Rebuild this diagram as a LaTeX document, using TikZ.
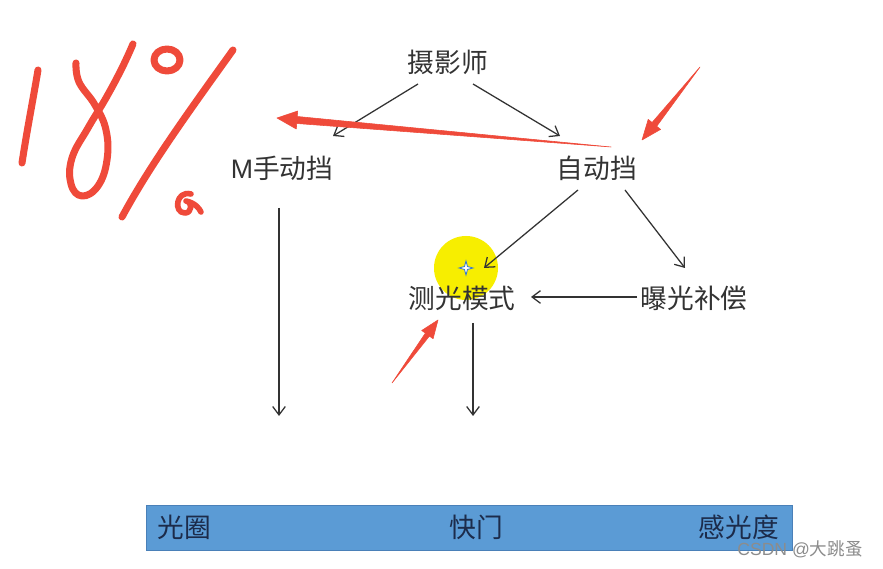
\documentclass[tikz,border=0pt]{standalone}
\usepackage{fontspec}
\setmainfont{Liberation Sans}
\newfontfamily\cjk{Noto Sans CJK SC}
\usetikzlibrary{arrows.meta,calc}
\definecolor{redink}{HTML}{EF4A3A}
\definecolor{inkgray}{HTML}{333333}
\definecolor{barblue}{HTML}{5B9BD5}
\definecolor{barline}{HTML}{4A80B8}
\definecolor{bartext}{HTML}{1C2B4A}
\definecolor{hlyellow}{HTML}{F7EE00}
\definecolor{sparkblue}{HTML}{3A7BC8}
\begin{document}
\begin{tikzpicture}[x=0.025cm,y=-0.025cm,
  lbl/.style={inner sep=0pt,text=inkgray,font=\cjk\fontsize{19}{22}\selectfont},
  blbl/.style={inner sep=0pt,text=bartext,font=\cjk\fontsize{19}{22}\selectfont},
  arr/.style={draw=inkgray,line width=0.9pt,-{Straight Barb[length=6pt,width=9pt]}},
  pen/.style={draw=redink,line width=5pt,line cap=round,line join=round},
  redarrow/.style={fill=redink,draw=redink,line width=0.4pt,line join=round},
  barbox/.style={fill=barblue,draw=barline,line width=0.6pt,minimum width=16.125cm,minimum height=1.125cm,inner sep=0pt}]
\useasboundingbox (0,0) rectangle (883,569);
\fill[white] (0,0) rectangle (883,569);

% handwritten 18%
\draw[pen] (38,70) .. controls (33,100) and (27,130) .. (22,163);
\draw[pen] plot[smooth,tension=0.7] coordinates {(76,63) (79,82) (95,105) (106,130) (107,160) (98,186) (82,196) (71,184) (72,158) (88,128) (106,98) (122,68) (133,44)};
\draw[pen] (167,60) ellipse (13 and 11);
\draw[pen] (233,50) .. controls (190,110) and (150,165) .. (122,217);
\draw[pen,line width=4pt] (191,194) .. controls (176,190) and (173,213) .. (185,213) .. controls (192,213) and (193,202) .. (186,201) .. controls (195,203) and (199,208) .. (201,212);

% highlight
\fill[hlyellow] (466,268) circle (32);
\draw[sparkblue,fill=white,line width=0.6pt] (466,261) -- (467.5,266.5) -- (473,268) -- (467.5,269.5) -- (466,275) -- (464.5,269.5) -- (459,268) -- (464.5,266.5) -- cycle;

% nodes
\node[lbl] (top) at (448,62) {摄影师};
\node[lbl] (man) at (282,168) {{\fontspec{Liberation Sans}M}手动挡};
\node[lbl] (auto) at (597,168) {自动挡};
\node[lbl] (meter) at (462,298) {测光模式};
\node[lbl] (comp) at (694,298) {曝光补偿};
\coordinate (manend) at (279,416);
\coordinate (meterend) at (473,416);

% connectors
\draw[arr] ($(top)+(-30,22)$) -- ($(man)+(51,-32)$);
\draw[arr] ($(top)+(25,22)$) -- ($(auto)+(-37,-32)$);
\draw[arr] ($(auto)+(-19,22)$) -- ($(meter)+(22,-30)$);
\draw[arr] ($(auto)+(28,22)$) -- ($(comp)+(-9,-30)$);
\draw[arr] ($(comp)+(-57,-1)$) -- ($(meter)+(69,-1)$);
\draw[arr] ($(man)+(-3,40)$) -- (manend);
\draw[arr] ($(meter)+(11,25)$) -- (meterend);

% red arrows
\draw[redarrow] (277,118) -- (297.7,111) -- (297.3,116.5) -- (611,147) -- (296.7,123.5) -- (296.3,129) -- cycle;
\draw[redarrow] (642,140) -- (660.6,129.4) -- (656.7,126.3) -- (700,67) -- (652.1,122.5) -- (648.2,119.4) -- cycle;
\draw[redarrow] (438,320) -- (433.1,338.7) -- (429.4,336.1) -- (392,383) -- (425.4,333.1) -- (421.7,330.5) -- cycle;

% bar
\node[barbox] (bar) at (469.5,527.5) {};
\node[blbl] (aperture) at (184,527) {光圈};
\node[blbl] (shutter) at (476,527) {快门};
\node[blbl] (iso) at (739,527) {感光度};

% watermark
\node[inner sep=0pt,text=black!45,font=\fontsize{12.5}{14}\selectfont] (wm) at (800,549) {CSDN @{\cjk 大跳蚤}};
\end{tikzpicture}
\end{document}
